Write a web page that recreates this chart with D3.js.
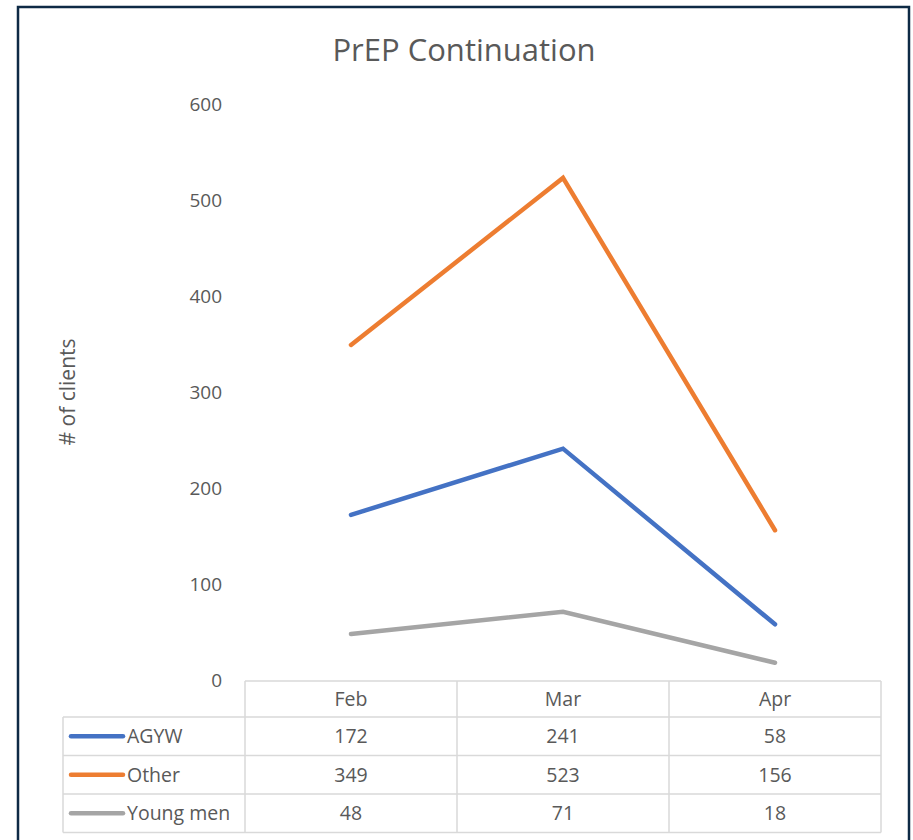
<!DOCTYPE html>
<html>
<head>
<meta charset="utf-8">
<script src="https://cdn.jsdelivr.net/npm/d3@7"></script>
<style>
  body { margin: 0; background: #fff; }
  text { font-family: "Open Sans", "Noto Sans", sans-serif; fill: #595959; }
</style>
</head>
<body>
<div id="chart"></div>
<script>
// data
const months = ["Feb", "Mar", "Apr"]
const seriesNames = ["AGYW", "Other", "Young men"]
const agyw = [172, 241, 58]
const other = [349, 523, 156]
const youngMen = [48, 71, 18]
const yTicks = [0, 100, 200, 300, 400, 500, 600]
const colors = ["#4472C4", "#ED7D31", "#A5A5A5"]

const series = [agyw, other, youngMen]

const width = 913, height = 840

const svg = d3.select("#chart").append("svg")
    .attr("width", width)
    .attr("height", height)

// outer frame
svg.append("rect")
    .attr("x", 18).attr("y", 7)
    .attr("width", 891).attr("height", 850)
    .attr("fill", "#fff")
    .attr("stroke", "#0e2a45")
    .attr("stroke-width", 2.5)

svg.append("text")
    .attr("x", 464).attr("y", 61)
    .attr("text-anchor", "middle")
    .style("font-size", "31px")
    .text("PrEP Continuation")

// table columns double as the x scale
const x = d3.scaleBand()
    .domain(months)
    .range([245, 881])

const y = d3.scaleLinear()
    .domain([0, 600])
    .range([680, 104])

// y tick labels (no axis line in the reference)
svg.append("g")
    .selectAll("text")
    .data(yTicks)
    .join("text")
    .attr("x", 222)
    .attr("y", d => y(d))
    .attr("dy", "0.35em")
    .attr("text-anchor", "end")
    .style("font-size", "19px")
    .text(d => d)

svg.append("text")
    .attr("transform", "translate(75,392) rotate(-90)")
    .attr("text-anchor", "middle")
    .style("font-size", "21px")
    .text("# of clients")

const line = d3.line()
    .x((d, i) => x(months[i]) + x.bandwidth() / 2)
    .y(d => y(d))

svg.append("g")
    .selectAll("path")
    .data(series)
    .join("path")
    .attr("d", line)
    .attr("fill", "none")
    .attr("stroke", (d, i) => colors[i])
    .attr("stroke-width", 4.5)
    .attr("stroke-linecap", "round")
    .attr("stroke-linejoin", "miter")

// data table
const gridColor = "#d9d9d9"
const headTop = 681, rowH = 38.5
const legLeft = 63
const table = svg.append("g")
    .attr("stroke", gridColor)
    .attr("stroke-width", 1.5)

// header row
table.append("line").attr("x1", x.range()[0]).attr("x2", x.range()[1]).attr("y1", headTop).attr("y2", headTop)
// row lines
for (let r = 1; r <= seriesNames.length + 1; r++) {
    table.append("line")
        .attr("x1", legLeft).attr("x2", x.range()[1])
        .attr("y1", headTop + 36 + (r - 1) * rowH)
        .attr("y2", headTop + 36 + (r - 1) * rowH)
}
const tableBottom = headTop + 36 + seriesNames.length * rowH
// verticals
months.forEach(m => {
    table.append("line").attr("x1", x(m)).attr("x2", x(m)).attr("y1", headTop).attr("y2", tableBottom)
})
table.append("line").attr("x1", x.range()[1]).attr("x2", x.range()[1]).attr("y1", headTop).attr("y2", tableBottom)
table.append("line").attr("x1", legLeft).attr("x2", legLeft).attr("y1", headTop + 36).attr("y2", tableBottom)

// month headers
svg.append("g")
    .selectAll("text")
    .data(months)
    .join("text")
    .attr("x", d => x(d) + x.bandwidth() / 2)
    .attr("y", headTop + 18)
    .attr("dy", "0.35em")
    .attr("text-anchor", "middle")
    .style("font-size", "19.5px")
    .text(d => d)

series.forEach((vals, i) => {
    const cy = headTop + 36 + i * rowH + rowH / 2
    svg.append("line")
        .attr("x1", 71).attr("x2", 123)
        .attr("y1", cy).attr("y2", cy)
        .attr("stroke", colors[i])
        .attr("stroke-width", 4.5)
        .attr("stroke-linecap", "round")
    svg.append("text")
        .attr("x", 127).attr("y", cy)
        .attr("dy", "0.35em")
        .style("font-size", "19.5px")
        .text(seriesNames[i])
    svg.append("g")
        .selectAll("text")
        .data(vals)
        .join("text")
        .attr("x", (d, j) => x(months[j]) + x.bandwidth() / 2)
        .attr("y", cy)
        .attr("dy", "0.35em")
        .attr("text-anchor", "middle")
        .style("font-size", "19.5px")
        .text(d => d)
})
</script>
</body>
</html>
